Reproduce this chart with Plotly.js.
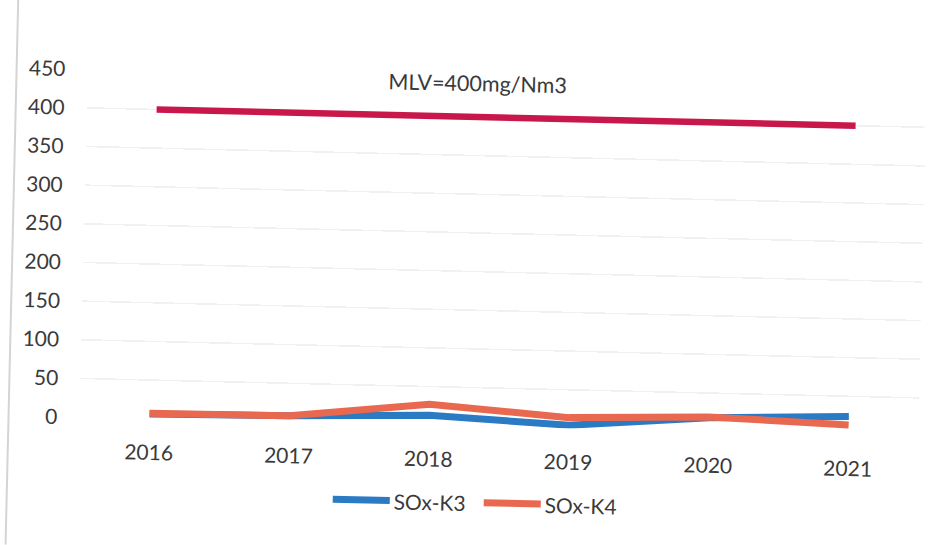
<!DOCTYPE html>
<html>
<head>
<meta charset="utf-8">
<script src="https://cdn.plot.ly/plotly-3.0.1.min.js"></script>
<style>
  html, body { margin: 0; padding: 0; background: #ffffff; overflow: hidden; }
  #wrap { position: absolute; left: 0; top: 0; width: 930px; height: 545px;
          transform: rotate(1.33deg); transform-origin: 465px 272.5px; }
  #chart { position: absolute; left: 0; top: 0; width: 930px; height: 545px; }
  #edge { position: absolute; left: 11px; top: -10px; width: 2px; height: 565px; background: #d4d4d4; }
</style>
</head>
<body>
<div id="wrap">
  <div id="chart"></div>
  <div id="edge"></div>
</div>
<script>
// Data
const years = ['2016', '2017', '2018', '2019', '2020', '2021'];
const soxK3 = [6, 8, 13, 4, 18, 24];
const soxK4 = [7, 8, 27, 14, 19, 13];
const mlv = [400, 400, 400, 400, 400, 400];
const yTicks = [0, 50, 100, 150, 200, 250, 300, 350, 400, 450];
const mlvLabel = 'MLV=400mg/Nm3';
const seriesNames = ['SOx-K3', 'SOx-K4'];

const FONT = 'Lato, "Open Sans", "Liberation Sans", sans-serif';
const TXT = '#3a3a3a';
const COLORS = ['#2B7BC4', '#E8694F'];

const traces = [
  {
    x: years, y: mlv, type: 'scatter', mode: 'lines', name: 'MLV',
    line: { color: '#C8174B', width: 6.5 }, showlegend: false, hoverinfo: 'skip'
  },
  {
    x: years, y: soxK3, type: 'scatter', mode: 'lines', name: seriesNames[0],
    line: { color: COLORS[0], width: 7 }, showlegend: false
  },
  {
    x: years, y: soxK4, type: 'scatter', mode: 'lines', name: seriesNames[1],
    line: { color: COLORS[1], width: 7 }, showlegend: false
  }
];

// custom legend (long line keys, as in the reference)
const legX = [[0.304, 0.372], [0.484, 0.552]];
const legY = -0.219;
const shapes = legX.map((p, i) => ({
  type: 'line', xref: 'paper', yref: 'paper', x0: p[0], x1: p[1], y0: legY, y1: legY,
  line: { color: COLORS[i], width: 7 }
}));
const annotations = [{
  text: mlvLabel, xref: 'paper', yref: 'y', x: 0.4655, y: 444,
  xanchor: 'center', yanchor: 'middle', showarrow: false,
  font: { family: FONT, size: 21.5, color: TXT }
}].concat(legX.map((p, i) => ({
  text: seriesNames[i], xref: 'paper', yref: 'paper', x: p[1] + 0.002, y: legY - 0.002,
  xanchor: 'left', yanchor: 'middle', showarrow: false,
  font: { family: FONT, size: 21, color: TXT }
})));

const layout = {
  width: 930, height: 545,
  margin: { l: 83, r: 8, t: 78, b: 119 },
  paper_bgcolor: 'rgba(0,0,0,0)', plot_bgcolor: 'rgba(0,0,0,0)',
  font: { family: FONT, color: TXT, size: 21 },
  showlegend: false,
  xaxis: {
    type: 'category', categoryorder: 'array', categoryarray: years,
    range: [-0.5, years.length - 0.5], autorange: false,
    showgrid: false, zeroline: false, showline: false,
    ticks: 'outside', ticklen: 15, tickcolor: 'rgba(0,0,0,0)',
    tickfont: { family: FONT, size: 21, color: TXT }
  },
  yaxis: {
    range: [0, 450], tickmode: 'array', tickvals: yTicks, ticktext: yTicks.map(String),
    showgrid: true, gridcolor: '#f1f1f1', gridwidth: 1.5,
    zeroline: false, showline: false,
    ticks: 'outside', ticklen: 17, tickcolor: 'rgba(0,0,0,0)',
    tickfont: { family: FONT, size: 21, color: TXT }
  },
  shapes: shapes,
  annotations: annotations
};

Plotly.newPlot('chart', traces, layout, { displayModeBar: false, staticPlot: true });
</script>
</body>
</html>
